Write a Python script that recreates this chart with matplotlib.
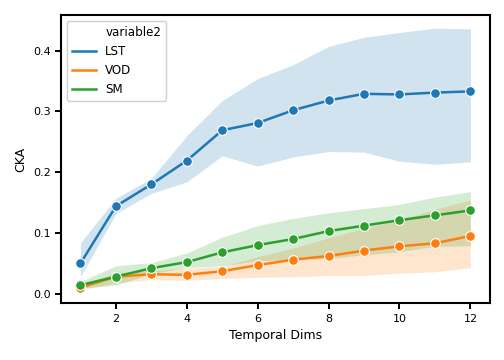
import numpy as np
import matplotlib
matplotlib.use("Agg")
import matplotlib.pyplot as plt
from matplotlib.lines import Line2D

# temporal dims on the x axis
dims = [1, 2, 3, 4, 5, 6, 7, 8, 9, 10, 11, 12]

# mean CKA per variable
lst_mean = [0.050, 0.144, 0.180, 0.219, 0.269, 0.281, 0.302, 0.318, 0.329, 0.328, 0.331, 0.333]
vod_mean = [0.010, 0.028, 0.032, 0.031, 0.037, 0.047, 0.056, 0.062, 0.071, 0.078, 0.083, 0.095]
sm_mean = [0.014, 0.028, 0.042, 0.052, 0.068, 0.080, 0.090, 0.103, 0.112, 0.121, 0.129, 0.137]

# confidence bands
lst_low = [0.028, 0.132, 0.165, 0.184, 0.227, 0.210, 0.225, 0.234, 0.233, 0.218, 0.213, 0.217]
lst_high = [0.084, 0.157, 0.190, 0.260, 0.318, 0.354, 0.377, 0.407, 0.422, 0.430, 0.437, 0.436]
vod_low = [0.006, 0.018, 0.023, 0.022, 0.025, 0.027, 0.028, 0.030, 0.030, 0.034, 0.036, 0.043]
vod_high = [0.014, 0.035, 0.038, 0.042, 0.045, 0.061, 0.075, 0.092, 0.108, 0.121, 0.139, 0.154]
sm_low = [0.009, 0.014, 0.033, 0.043, 0.046, 0.054, 0.056, 0.058, 0.064, 0.069, 0.078, 0.079]
sm_high = [0.020, 0.046, 0.051, 0.067, 0.093, 0.112, 0.124, 0.133, 0.140, 0.147, 0.159, 0.168]

names = ["LST", "VOD", "SM"]
colors = ["#1f77b4", "#ff7f0e", "#2ca02c"]

fig = plt.figure(figsize=(5.04, 3.6), dpi=100)
ax = fig.add_axes([0.121, 0.158, 0.851, 0.800])

series = [(lst_mean, lst_low, lst_high), (vod_mean, vod_low, vod_high), (sm_mean, sm_low, sm_high)]

# bands first, then the lines on top
for (m, lo, hi), c in zip(series, colors):
    ax.fill_between(dims, lo, hi, color=c, alpha=0.2, linewidth=0)

handles = [Line2D([], [], linestyle="none", marker="none")]
for (m, lo, hi), c, n in zip(series, colors, names):
    ax.plot(dims, m, color=c, lw=1.8, marker="o", ms=7, mec="white", mew=0.8)
    handles.append(Line2D([], [], color=c, lw=1.8))

ax.set_xticks([2, 4, 6, 8, 10, 12])
ax.set_yticks([0.0, 0.1, 0.2, 0.3, 0.4])
ax.set_xlabel("Temporal Dims", fontsize=9)
ax.set_ylabel("CKA", fontsize=9)
ax.tick_params(labelsize=8, length=4.5, width=1.4, pad=3)
for s in ax.spines.values():
    s.set_linewidth(1.5)

ax.legend(handles, ["variable2"] + names, loc="upper left", fontsize=8.6,
          handlelength=2.0, frameon=True, edgecolor="#d0d0d0", framealpha=1)

fig.savefig("out.png", dpi=100)
